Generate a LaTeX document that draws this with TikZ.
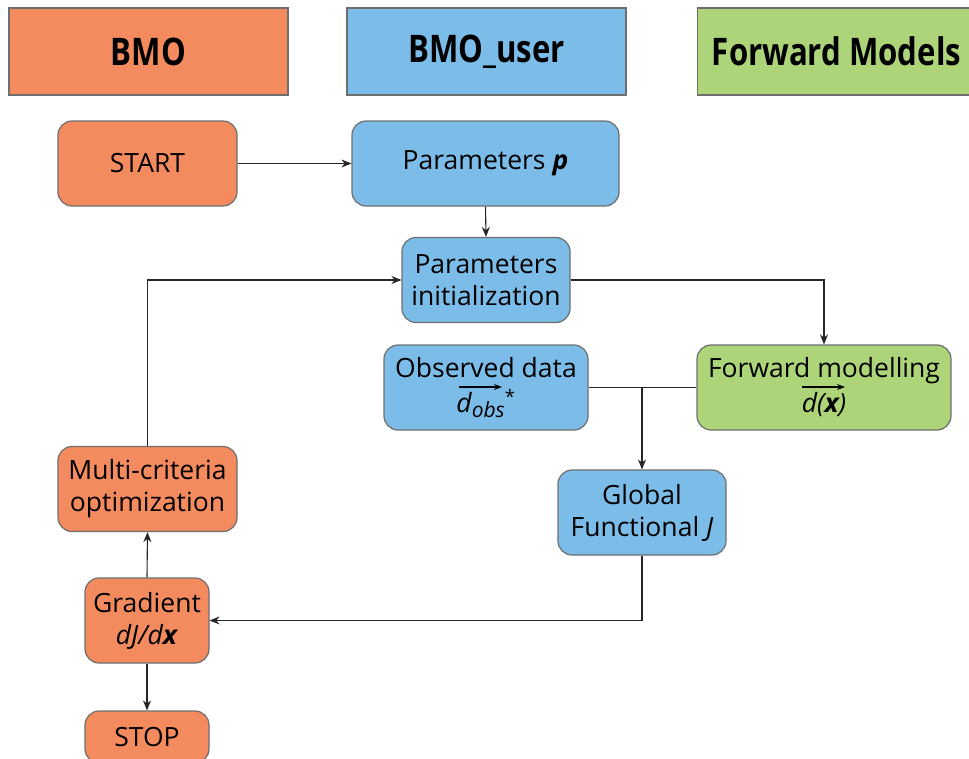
\documentclass[tikz,border=0pt]{standalone}
\usepackage{graphicx}
\usepackage{fontspec}
\setmainfont{Open Sans}
\usetikzlibrary{arrows.meta}
\definecolor{bmo}{HTML}{F48B5F}
\definecolor{usr}{HTML}{7BBDE8}
\definecolor{fwd}{HTML}{AED47A}
\definecolor{edge}{HTML}{6E6E6E}
\newcommand{\hdrtext}[1]{\scalebox{0.82}[1]{#1}}
\tikzset{
  hdr/.style={draw=edge, line width=1.2pt, minimum height=87, font=\fontsize{38}{40}\selectfont\bfseries, inner sep=0pt},
  box/.style={draw=edge, line width=1.2pt, rounded corners=14pt, minimum height=85, align=center, font=\fontsize{26.5}{32}\selectfont, inner sep=0pt},
  conn/.style={line width=1.1pt, draw=black!85},
  arr/.style={conn, -{Stealth[length=10pt,width=8pt]}},
  vec/.style={line width=1.1pt, -{Stealth[length=8pt,width=6pt]}},
}
\begin{document}
\begin{tikzpicture}[x=1pt,y=-1pt]
\useasboundingbox (0,0) rectangle (969,758);
\node[hdr, fill=bmo, minimum width=279] (h1) at (148.5,51.5) {\hdrtext{BMO}};
\node[hdr, fill=usr, minimum width=279] (h2) at (486.5,51.5) {\hdrtext{BMO\_user}};
\node[hdr, fill=fwd, minimum width=279, anchor=west] (h3) at (697,51.5) {};
\node[font=\fontsize{38}{40}\selectfont\bfseries] (h3t) at (836.5,51.5) {\hdrtext{Forward Models}};

\node[box, fill=bmo, minimum width=179] (start) at (147.5,163.5) {START};
\node[box, fill=usr, minimum width=267] (par) at (485.5,163.5) {Parameters \textbf{\textit{p}}};
\node[box, fill=usr, minimum width=168] (init) at (486,280) {Parameters\\initialization};
\node[box, fill=usr, minimum width=204] (obs) at (486,387.5) {Observed data\\[3pt]\textit{d\raisebox{-5pt}{\fontsize{21}{24}\selectfont obs}}\textsuperscript{*}};
\node[box, fill=fwd, minimum width=254] (fm) at (824,387.5) {Forward modelling\\[3pt]\textit{d(\textbf{x})}};
\node[box, fill=usr, minimum width=168] (gf) at (642,512.5) {Global\\Functional \textit{J}};
\node[box, fill=bmo, minimum width=179] (mc) at (147.5,489) {Multi-criteria\\optimization};
\node[box, fill=bmo, minimum width=124] (grad) at (147,620.5) {Gradient\\\textit{dJ/d\textbf{x}}};
\node[box, fill=bmo, minimum width=124, minimum height=52] (stop) at (147,737) {STOP};

\draw[vec] ([xshift=-27pt,yshift=0.5pt]obs.center) -- ([xshift=16pt,yshift=0.5pt]obs.center);
\draw[vec] ([xshift=-22pt,yshift=0.5pt]fm.center) -- ([xshift=21pt,yshift=0.5pt]fm.center);

\coordinate (j1) at (642,388);
\draw[arr] (start.east) -- (par.west);
\draw[arr] (par.south) -- (init.north);
\draw[arr] (init.east) -| (fm.north);
\draw[conn] (obs.east) -- (fm.west);
\draw[arr] (j1) -- (gf.north);
\draw[arr] (gf.south) |- (grad.east);
\draw[arr] (grad.north) -- (mc.south);
\draw[arr] (grad.south) -- (stop.north);
\draw[arr] (mc.north) |- (init.west);
\end{tikzpicture}
\end{document}
